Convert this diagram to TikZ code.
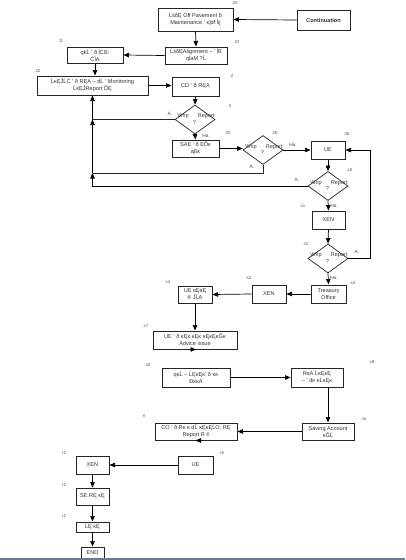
\documentclass[tikz,border=0pt]{standalone}
\usepackage{fontspec}
\setmainfont{Liberation Sans}
\usetikzlibrary{shapes.geometric,arrows.meta}
\begin{document}
\begin{tikzpicture}[x=1pt,y=-1pt,
  box/.style={draw=black!85,line width=1pt,fill=white,align=center,inner sep=0pt,font=\fontsize{5.6}{7}\selectfont,text=black!80},
  dia/.style={draw=black!85,line width=0.7pt,diamond,inner sep=0pt,minimum width=40pt,minimum height=29pt},
  dtext/.style={font=\fontsize{5.6}{7}\selectfont,text=black!75,inner sep=0pt},
  num/.style={font=\fontsize{4.3}{4.5}\selectfont,text=black!70,inner sep=0pt},
  yn/.style={font=\fontsize{4.8}{5}\selectfont,text=black!75,inner sep=0pt},
  arr/.style={draw=black,line width=0.7pt,-{Triangle[length=5.5pt,width=4.5pt]}},
  ln/.style={draw=black!85,line width=0.7pt}]
\useasboundingbox (0,0) rectangle (405,560);
\fill[white] (0,0) rectangle (405,560);

% boxes
\node[box,minimum width=75pt,minimum height=23pt] (b1) at (195.5,19.5) {ĹśδĘ Off Pavement ɓ\\Maintenance ' ĸĵdf ĺij};
\node[box,minimum width=53pt,minimum height=20pt,font=\fontsize{5.6}{7}\bfseries] (cont) at (323.5,20) {Continuation};
\node[box,minimum width=62pt,minimum height=17pt] (b2) at (196,55.5) {ĹśδĘAlignment – ' ĺB\\qĺaM ?Ĺ};
\node[box,minimum width=56pt,minimum height=16pt] (b3) at (95,55) {qkĹ ' ð ĺĊB:\\ĆĺA};
\node[box,minimum width=111pt,minimum height=19pt] (b4) at (92.5,85.5) {ĹĸĘĴĹĊ ' ð RĘA – dĹ ' Monitoring\\ĹĸĘĴReport ĎĘ};
\node[box,minimum width=47pt,minimum height=19pt] (b5) at (195.5,86.5) {CD ' ð RĘA};
\node[box,minimum width=47pt,minimum height=17pt] (sae) at (195.5,148.5) {SAE ' ð EĎĸ\\ąßĸ};
\node[box,minimum width=34pt,minimum height=18pt] (ue1) at (328,150) {UE};
\node[box,minimum width=33pt,minimum height=18pt] (xen1) at (328.5,220) {XEN};
\node[box,minimum width=35pt,minimum height=18pt] (tre) at (328.5,294) {Treasury\\Office};
\node[box,minimum width=34pt,minimum height=18pt] (xen2) at (269,294) {XEN};
\node[box,minimum width=34pt,minimum height=17pt] (ue2) at (195,294.5) {UE ɞĘɞĘ\\ŀŀ ĴĹA};
\node[box,minimum width=84pt,minimum height=18pt] (adv) at (195,340) {UE ' ð ĸĘĸ ĸĘĸ ĸĘĸĘĸĜĸ\\Advice issue};
\node[box,minimum width=68pt,minimum height=19pt] (qk) at (196,377.5) {qĸĹ – ĹĘĸĘĸ' ð ĸĸ\\ĐĸĸA};
\node[box,minimum width=52pt,minimum height=19pt] (rb) at (317,377.5) {RĸA ĹĸĘĸĘ\\– ' dĸ ĸĹĸĘĸ};
\node[box,minimum width=52pt,minimum height=17pt] (sav) at (328,431.5) {Saving Account\\ĸĜĹ};
\node[box,minimum width=82pt,minimum height=17pt] (co) at (196,431.5) {CO ' ð Rĸ ĸ dĹ ĸĘĸĘĹO, RĘ\\Report R ĉ};
\node[box,minimum width=35pt,minimum height=18pt] (ue3) at (195.5,465) {UE};
\node[box,minimum width=33pt,minimum height=18pt] (xen3) at (92.5,465) {XEN};
\node[box,minimum width=33pt,minimum height=17pt] (se) at (92.5,496.5) {SE RĘ ĸĘ};
\node[box,minimum width=33pt,minimum height=10pt] (sm) at (92.5,527) {ĹĘ ĸĘ};
\node[box,minimum width=23pt,minimum height=12pt] (endn) at (92.5,553) {END};

% diamonds
\node[dia] (d1) at (195,119.5) {};
\node[dtext,align=center] (t1) at (196,119) {Wrip\hspace{9pt}Report\\[-0.5pt]\hspace{-3pt}?};
\node[dia] (d2) at (263,150) {};
\node[dtext,align=center] (t2) at (264,149.5) {Wrip\hspace{9pt}Report\\[-0.5pt]\hspace{-3pt}?};
\node[dia] (d3) at (328,186) {};
\node[dtext,align=center] (t3) at (329,185.5) {Wrip\hspace{9pt}Report\\[-0.5pt]\hspace{-3pt}?};
\node[dia] (d4) at (328,258.5) {};
\node[dtext,align=center] (t4) at (329,258) {Wrip\hspace{9pt}Report\\[-0.5pt]\hspace{-3pt}?};

% junctions
\coordinate (j1) at (92.5,119.5);
\coordinate (j2) at (92.5,173);
\coordinate (rc) at (370,0);

% connectors
\draw[arr] (cont.west) -- (b1.east);
\draw[arr] (b1.south) -- (b2.north);
\draw[arr] (b2.west) -- (b3.east);
\draw[arr] (b3.south) -- (b3.south |- b4.north);
\draw[arr] (b4.east) -- (b4.east -| b5.west);
\draw[arr] (b5.south) -- (d1.north);
\draw[arr] (d1.south) -- (sae.north);
\draw[arr] (sae.east) -- (sae.east -| d2.west);
\draw[arr] (d2.east) -- (d2.east -| ue1.west);
\draw[arr] (ue1.south) -- (d3.north);
\draw[arr] (d3.south) -- (xen1.north);
\draw[arr] (xen1.south) -- (d4.north);
\draw[arr] (d4.south) -- (tre.north);
\draw[arr] (d4.east) -- (d4.east -| rc) |- (ue1.east);
\draw[ln] (d1.west) -- (j1);
\draw[ln] (d2.south) |- (j2);
\draw[arr] (d3.west) -| (j2);
\draw[arr] (j2) -- (j1);
\draw[arr] (j1) -- (b4.south);
\draw[arr] (tre.west) -- (xen2.east);
\draw[arr] (xen2.west) -- (ue2.east);
\draw[arr] (ue2.south) -- (ue2.south |- adv.north);
\draw[arr] (adv.south) -- (adv.south -| qk.north);
\draw[arr] (qk.east) -- (qk.east -| rb.west);
\draw[arr] (rb.south -| sav.north) -- (sav.north);
\draw[arr] (sav.west) -- (co.east);
\draw[arr] (co.south) -- (co.south -| ue3.north);
\draw[arr] (ue3.west) -- (xen3.east);
\draw[arr] (xen3.south) -- (se.north);
\draw[arr] (se.south) -- (sm.north);
\draw[arr] (sm.south) -- (endn.north);

% yes / no labels
\node[yn] (a1) at (170,114) {A.};
\node[yn] (a2) at (252,167) {A.};
\node[yn] (a3) at (297,180) {A.};
\node[yn] (a4) at (357,252) {A.};
\node[yn] (h1) at (206,136) {Ha.};
\node[yn] (h2) at (293,144.5) {Ha.};
\node[yn] (h3) at (334,206) {Ha.};
\node[yn] (h4) at (334,278) {Ha.};

% step numbers
\node[num] (n1) at (235,3) {20};
\node[num] (n2) at (237,42) {22};
\node[num] (n3) at (61,41) {2l};
\node[num] (n4) at (38,71) {22};
\node[num] (n5) at (232,76) {2};
\node[num] (n6) at (230,106) {2};
\node[num] (n7) at (228,133) {20};
\node[num] (n8) at (275,133) {2b};
\node[num] (n9) at (347,134) {2b};
\node[num] (n10) at (350,170) {s0};
\node[num] (n11) at (303,206) {s1};
\node[num] (n12) at (306,244) {s2};
\node[num] (n13) at (353,283) {s3};
\node[num] (n14) at (249,278) {s2};
\node[num] (n15) at (168,282) {s4};
\node[num] (n16) at (146,326) {s7};
\node[num] (n17) at (148,365) {s0};
\node[num] (n18) at (372,362) {s9};
\node[num] (n19) at (364,419) {Jo};
\node[num] (n20) at (144,416) {ri};
\node[num] (n21) at (222,453) {r5};
\node[num] (n22) at (64,453) {r2};
\node[num] (n23) at (64,485) {r2};
\node[num] (n24) at (64,516) {r2};

% bottom rule
\draw[draw={rgb,255:red,105;green,125;blue,145},line width=1.3pt] (0,559) -- (405,559);
\end{tikzpicture}
\end{document}
